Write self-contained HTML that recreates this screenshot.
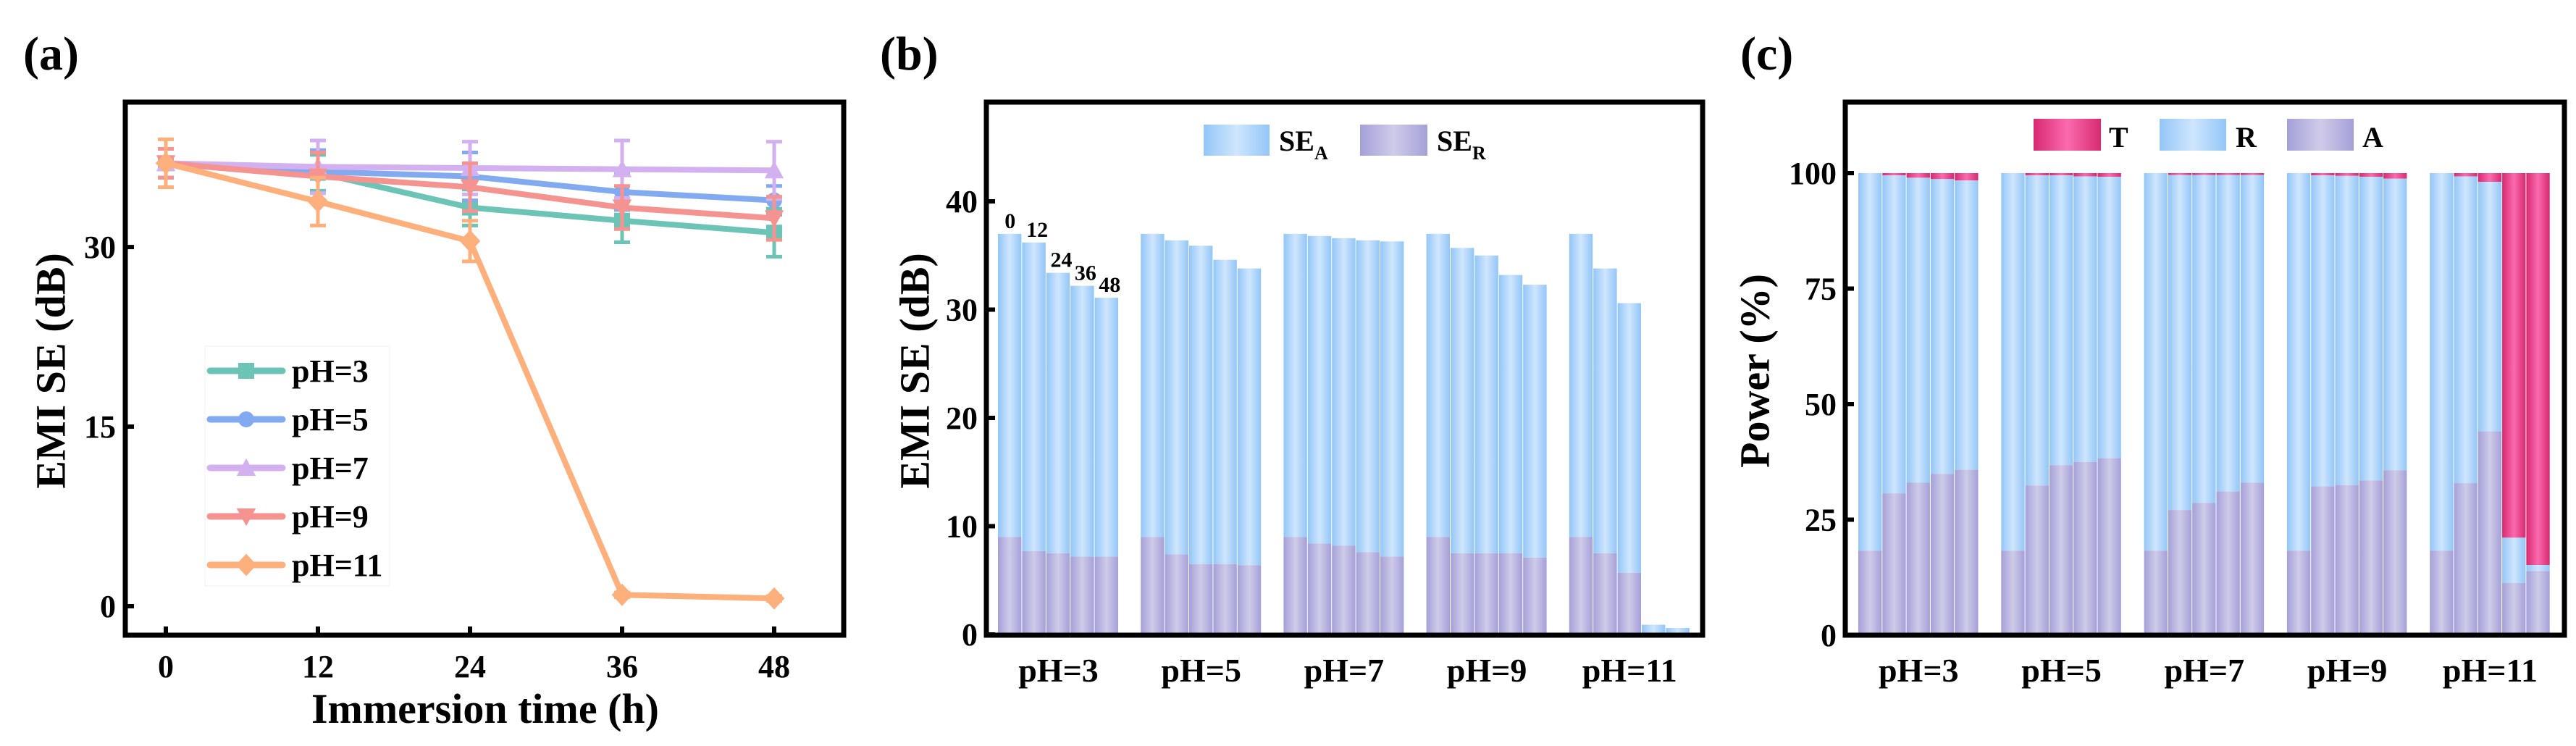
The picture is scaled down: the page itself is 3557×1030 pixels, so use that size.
<!DOCTYPE html>
<html><head><meta charset="utf-8">
<style>
html,body{margin:0;padding:0;background:#fff;}
svg, svg text{font-family:"Liberation Serif","Times New Roman",serif;font-weight:bold;}
</style></head>
<body>
<svg id="fig" width="3557" height="1025" viewBox="0 0 3557 1025" xmlns="http://www.w3.org/2000/svg" font-family="Liberation Serif, serif" font-weight="bold">
<defs>
<linearGradient id="gBlue" x1="0" y1="0" x2="1" y2="0"><stop offset="0" stop-color="#93c6f7"/><stop offset="0.5" stop-color="#cfe6fd"/><stop offset="1" stop-color="#93c6f7"/></linearGradient>
<linearGradient id="gPurp" x1="0" y1="0" x2="1" y2="0"><stop offset="0" stop-color="#a5a0d8"/><stop offset="0.5" stop-color="#cfcbe8"/><stop offset="1" stop-color="#a5a0d8"/></linearGradient>
<linearGradient id="gPink" x1="0" y1="0" x2="1" y2="0"><stop offset="0" stop-color="#d82a70"/><stop offset="0.5" stop-color="#fb6aae"/><stop offset="1" stop-color="#d82a70"/></linearGradient>
</defs>
<g id="pa"></g>
<g id="pb"></g>
<g id="pc"></g>
</svg>
<script>
// ---------- Panel (a) data ----------
const aTimes = [0, 12, 24, 36, 48];
const aSeriesNames = ["pH=3", "pH=5", "pH=7", "pH=9", "pH=11"];
const aPH3 = [37.0, 36.2, 33.3, 32.2, 31.2];
const aPH5 = [37.0, 36.3, 35.9, 34.6, 33.9];
const aPH7 = [37.0, 36.7, 36.6, 36.5, 36.4];
const aPH9 = [37.0, 35.9, 35.0, 33.3, 32.4];
const aPH11 = [37.0, 33.8, 30.5, 0.95, 0.65];
const aErr3 = [1.2, 1.5, 1.5, 1.8, 2.0];
const aErr5 = [1.2, 1.8, 2.0, 1.5, 1.2];
const aErr7 = [1.2, 2.2, 2.2, 2.4, 2.4];
const aErr9 = [1.2, 2.0, 2.0, 1.8, 1.8];
const aErr11 = [2.0, 2.0, 1.7, 0.2, 0.2];
const aYTicks = [0, 15, 30];
// ---------- Panel (b) data ----------
const bGroups = ["pH=3", "pH=5", "pH=7", "pH=9", "pH=11"];
const bTimeLabels = ["0", "12", "24", "36", "48"];
const bTotal3 = [37.0, 36.2, 33.4, 32.2, 31.1];
const bTotal5 = [37.0, 36.4, 35.9, 34.6, 33.8];
const bTotal7 = [37.0, 36.8, 36.6, 36.4, 36.3];
const bTotal9 = [37.0, 35.7, 35.0, 33.2, 32.3];
const bTotal11 = [37.0, 33.8, 30.6, 0.9, 0.6];
const bSER3 = [9.0, 7.7, 7.5, 7.2, 7.2];
const bSER5 = [9.0, 7.4, 6.5, 6.5, 6.4];
const bSER7 = [9.0, 8.4, 8.2, 7.6, 7.2];
const bSER9 = [9.0, 7.5, 7.5, 7.5, 7.1];
const bSER11 = [9.0, 7.5, 5.7, 0.05, 0.05];
const bYTicks = [0, 10, 20, 30, 40];
// ---------- Panel (c) data ----------
const cA3 = [18.3, 30.7, 33.0, 34.9, 35.8];
const cA5 = [18.3, 32.4, 36.8, 37.5, 38.3];
const cA7 = [18.3, 27.1, 28.6, 31.1, 33.0];
const cA9 = [18.3, 32.2, 32.5, 33.5, 35.7];
const cA11 = [18.3, 32.9, 44.1, 11.3, 13.9];
const cT3 = [0, 0.5, 1.0, 1.3, 1.6];
const cT5 = [0, 0.5, 0.5, 0.7, 0.8];
const cT7 = [0, 0.4, 0.4, 0.4, 0.4];
const cT9 = [0, 0.5, 0.6, 0.8, 1.2];
const cT11 = [0, 0.7, 1.9, 78.9, 84.8];
const cYTicks = [0, 25, 50, 75, 100];

const NS = "http://www.w3.org/2000/svg";
function mk(parent, tag, attrs, text) {
  const e = document.createElementNS(NS, tag);
  for (const k in attrs) e.setAttribute(k, attrs[k]);
  if (tag === "text") { e.setAttribute("font-family", "Liberation Serif, Times New Roman, serif"); e.setAttribute("font-weight", "bold"); }
  if (text !== undefined) e.textContent = text;
  parent.appendChild(e);
  return e;
}
function frame(g, L, T, R, B) {
  const f = mk(g, "rect", {x: L, y: T, width: R - L, height: B - T, fill: "none", stroke: "#000", "stroke-width": 7});
  
  
}
function yTitle(g, cx, text) {
  const yt = mk(g, "text", {x: 0, y: 0, "font-size": 58, "text-anchor": "middle", "dominant-baseline": "central", transform: `translate(${cx},512) rotate(-90)`}, text);
  
  
}

// ================= Panel (a) =================
(function () {
  const g = document.getElementById("pa");
  const L = 173, T = 141, R = 1165, B = 877;
  const x = t => 229 + (t - 0) * (840 / 48);
  const y = v => 837 - v * 16.53;
  const lbl = mk(g, "text", {x: 32, y: 96, "font-size": 66}, "(a)");
  
  
  frame(g, L, T, R, B);
  aTimes.forEach(t => {
    const tk = mk(g, "line", {x1: x(t), x2: x(t), y1: B, y2: B - 12, stroke: "#000", "stroke-width": 6});
    
    
    const tl = mk(g, "text", {x: x(t), y: 935, "font-size": 44, "text-anchor": "middle"}, String(t));
    
    
  });
  aYTicks.forEach(v => {
    const tk = mk(g, "line", {x1: L, x2: L + 12, y1: y(v), y2: y(v), stroke: "#000", "stroke-width": 6});
    
    
    const tl = mk(g, "text", {x: 160, y: y(v) + 15, "font-size": 44, "text-anchor": "end"}, String(v));
    
    
  });
  const xt = mk(g, "text", {x: 670, y: 998, "font-size": 58, "text-anchor": "middle"}, "Immersion time (h)");
  
  
  yTitle(g, 70, "EMI SE (dB)");

  const series = [aPH3, aPH5, aPH7, aPH9, aPH11];
  const errs = [aErr3, aErr5, aErr7, aErr9, aErr11];
  const colors = ["#6cc4b6", "#82aaf0", "#d3b1f1", "#f49390", "#fdb07c"];
  const shapes = ["square", "circle", "up", "down", "diamond"];
  function marker(p, s, cx, cy, r, col) {
    let m;
    if (s === "square") m = mk(p, "rect", {x: cx - r, y: cy - r, width: 2 * r, height: 2 * r, fill: col});
    else if (s === "circle") m = mk(p, "circle", {cx: cx, cy: cy, r: r, fill: col});
    else if (s === "up") m = mk(p, "polygon", {points: `${cx},${cy - r * 1.2} ${cx - r * 1.2},${cy + r} ${cx + r * 1.2},${cy + r}`, fill: col});
    else if (s === "down") m = mk(p, "polygon", {points: `${cx},${cy + r * 1.2} ${cx - r * 1.2},${cy - r} ${cx + r * 1.2},${cy - r}`, fill: col});
    else m = mk(p, "polygon", {points: `${cx},${cy - r * 1.4} ${cx + r * 1.3},${cy} ${cx},${cy + r * 1.4} ${cx - r * 1.3},${cy}`, fill: col});
    return m;
  }
  series.forEach((vals, i) => {
    const sg = mk(g, "g", {});
    
    
    vals.forEach((v, j) => {
      const e = errs[i][j], cx = x(aTimes[j]);
      const eb = mk(sg, "path", {d: `M${cx},${y(v + e)}V${y(v - e)}M${cx - 11},${y(v + e)}H${cx + 11}M${cx - 11},${y(v - e)}H${cx + 11}`, stroke: colors[i], "stroke-width": 5, fill: "none"});
      
      
    });
    const pts = vals.map((v, j) => `${x(aTimes[j])},${y(v)}`).join(" ");
    const ln = mk(sg, "polyline", {points: pts, fill: "none", stroke: colors[i], "stroke-width": 8, "stroke-linejoin": "round"});
    
    
    vals.forEach((v, j) => {
      const m = marker(sg, shapes[i], x(aTimes[j]), y(v), 11, colors[i]);
      
      
    });
  });
  const lg = mk(g, "g", {});
  
  
  mk(lg, "rect", {x: 283, y: 478, width: 255, height: 331, fill: "#fff", stroke: "#f2f2f2", "stroke-width": 1});
  aSeriesNames.forEach((n, i) => {
    const ey = 512 + i * 67;
    const eg = mk(lg, "g", {});
    
    
    mk(eg, "line", {x1: 290, x2: 390, y1: ey, y2: ey, stroke: colors[i], "stroke-width": 9, "stroke-linecap": "round"});
    marker(eg, shapes[i], 340, ey, 11, colors[i]);
    mk(eg, "text", {x: 403, y: ey + 15, "font-size": 44}, n);
  });
})();

function barAxes(g, L, T, R, B, y, ticks, tickX, label, labelX, groups, gx) {
  frame(g, L, T, R, B);
  ticks.forEach(v => {
    const tk = mk(g, "line", {x1: L, x2: L + 12, y1: y(v), y2: y(v), stroke: "#000", "stroke-width": 6});
    
    
    const tl = mk(g, "text", {x: tickX, y: y(v) + 15, "font-size": 44, "text-anchor": "end"}, String(v));
    
    
  });
  groups.forEach((n, i) => {
    const tl = mk(g, "text", {x: gx(i), y: 941, "font-size": 46, "text-anchor": "middle"}, n);
    
    
  });
  yTitle(g, labelX, label);
}

// ================= Panel (b) =================
(function () {
  const g = document.getElementById("pb");
  const L = 1362, T = 141, R = 2351, B = 877;
  const y = v => 876 - v * 14.95;
  const gStart = i => 1378 + i * 197.2;
  const bw = 33.4;
  const lbl = mk(g, "text", {x: 1215, y: 96, "font-size": 66}, "(b)");
  
  
  const totals = [bTotal3, bTotal5, bTotal7, bTotal9, bTotal11];
  const sers = [bSER3, bSER5, bSER7, bSER9, bSER11];
  totals.forEach((arr, gi) => {
    arr.forEach((tot, j) => {
      const bx = gStart(gi) + j * bw;
      const r = sers[gi][j];
      const a = mk(g, "rect", {x: bx, y: y(tot), width: bw - 1, height: y(r) - y(tot), fill: "url(#gBlue)"});
      
      
      const rr = mk(g, "rect", {x: bx, y: y(r), width: bw - 1, height: y(0) - y(r), fill: "url(#gPurp)"});
      
      
    });
  });
  bTimeLabels.forEach((t, j) => {
    const tl = mk(g, "text", {x: gStart(0) + j * bw + bw / 2 + (j === 0 ? 0 : 4), y: y(bTotal3[j]) - 8, "font-size": 30, "text-anchor": "middle"}, t);
    
    
  });
  barAxes(g, L, T, R, B, y, bYTicks, 1350, "EMI SE (dB)", 1263, bGroups, i => gStart(i) + 2.5 * bw);
  const lg = mk(g, "g", {});
  
  
  mk(lg, "rect", {x: 1662, y: 172, width: 91, height: 43, fill: "url(#gBlue)"});
  const t1 = mk(lg, "text", {x: 1766, y: 208, "font-size": 40}, "SE");
  mk(t1, "tspan", {"font-size": 26, dy: 12}, "A");
  mk(lg, "rect", {x: 1878, y: 172, width: 93, height: 43, fill: "url(#gPurp)"});
  const t2 = mk(lg, "text", {x: 1984, y: 208, "font-size": 40}, "SE");
  mk(t2, "tspan", {"font-size": 26, dy: 12}, "R");
})();

// ================= Panel (c) =================
(function () {
  const g = document.getElementById("pc");
  const L = 2548, T = 141, R = 3541, B = 877;
  const y = v => 877 - v * 6.38;
  const gStart = i => 2566 + i * 197.3;
  const bw = 33.3;
  const lbl = mk(g, "text", {x: 2403, y: 96, "font-size": 66}, "(c)");
  
  
  const As = [cA3, cA5, cA7, cA9, cA11];
  const Ts = [cT3, cT5, cT7, cT9, cT11];
  As.forEach((arr, gi) => {
    arr.forEach((a, j) => {
      const t = Ts[gi][j];
      const bx = gStart(gi) + j * bw;
      const top = 100 - t;
      const tr = mk(g, "rect", {x: bx, y: y(100), width: bw - 1, height: y(top) - y(100), fill: "url(#gPink)"});
      
      
      const rr = mk(g, "rect", {x: bx, y: y(top), width: bw - 1, height: y(a) - y(top), fill: "url(#gBlue)"});
      
      
      const ar = mk(g, "rect", {x: bx, y: y(a), width: bw - 1, height: y(0) - y(a), fill: "url(#gPurp)"});
      
      
    });
  });
  barAxes(g, L, T, R, B, y, cYTicks, 2536, "Power (%)", 2423, bGroups, i => gStart(i) + 2.5 * bw);
  const lg = mk(g, "g", {});
  
  
  mk(lg, "rect", {x: 2808, y: 164, width: 93, height: 44, fill: "url(#gPink)"});
  mk(lg, "text", {x: 2912, y: 203, "font-size": 40}, "T");
  mk(lg, "rect", {x: 2982, y: 164, width: 92, height: 44, fill: "url(#gBlue)"});
  mk(lg, "text", {x: 3087, y: 203, "font-size": 40}, "R");
  mk(lg, "rect", {x: 3158, y: 164, width: 92, height: 44, fill: "url(#gPurp)"});
  mk(lg, "text", {x: 3262, y: 203, "font-size": 40}, "A");
})();
</script>
</body></html>
